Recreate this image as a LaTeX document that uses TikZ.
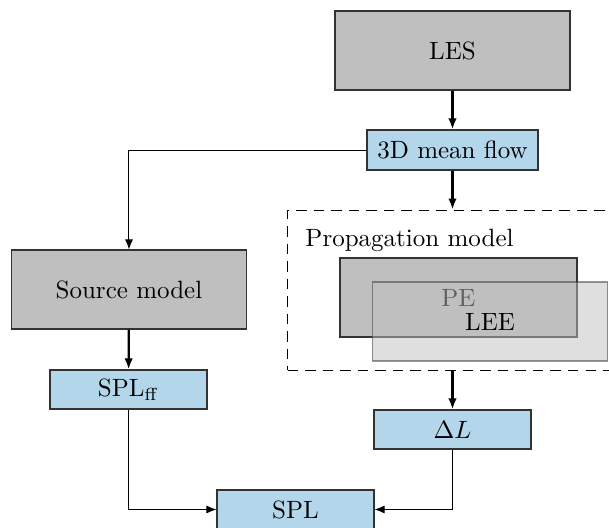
\documentclass[tikz,border=0pt]{standalone}
\usetikzlibrary{arrows.meta}
\definecolor{boxblue}{RGB}{180,214,235}
\definecolor{boxgray}{RGB}{191,191,191}
\begin{document}
\begin{tikzpicture}[x=0.4pt,y=-0.4pt,
  graybox/.style={draw=black!80,line width=0.45pt,fill=boxgray,minimum width=94pt,minimum height=31.6pt,inner sep=0pt},
  bluebox/.style={draw=black!80,line width=0.45pt,fill=boxblue,minimum width=62.8pt,minimum height=15.6pt,inner sep=0pt},
  arr/.style={-{Latex[length=4.4pt,width=3.4pt]},line width=0.9pt},
  thinarr/.style={-{Latex[length=4pt,width=3.2pt]},line width=0.4pt}]
\useasboundingbox (0,0) rectangle (609,528);
\node[graybox] (les) at (452.5,50.5) {LES};
\node[bluebox,minimum width=68.4pt,minimum height=16pt] (flow) at (452.5,150) {3D mean flow};
\node[draw,dashed,dash pattern=on 4.2pt off 2.8pt,line width=0.4pt,minimum width=132.8pt,minimum height=64pt,inner sep=0pt] (prop) at (454,290) {};
\node[anchor=base west,inner sep=0pt] (proplabel) at (305,246) {Propagation model};
\node[graybox,minimum width=94.8pt] (pe) at (458.5,297.5) {PE};
\node[graybox,fill opacity=0.5,draw opacity=0.5,text opacity=1] (lee) at (490,321.5) {LEE};
\node[graybox] (src) at (129,289.5) {Source model};
\node[bluebox] (splff) at (128.5,389.5) {SPL$_\mathrm{ff}$};
\node[bluebox] (dl) at (452.5,429.5) {$\Delta L$};
\node[bluebox] (spl) at (295.5,509.5) {SPL};
\draw[arr] (les) -- (flow);
\draw[thinarr] (flow.west) -| (src.north);
\draw[arr] (flow.south) -- (flow.south |- prop.north);
\draw[arr] (src) -- (splff);
\draw[arr] (dl.north |- prop.south) -- (dl.north);
\draw[thinarr] (splff.south) |- (spl.west);
\draw[thinarr] (dl.south) |- (spl.east);
\end{tikzpicture}
\end{document}
